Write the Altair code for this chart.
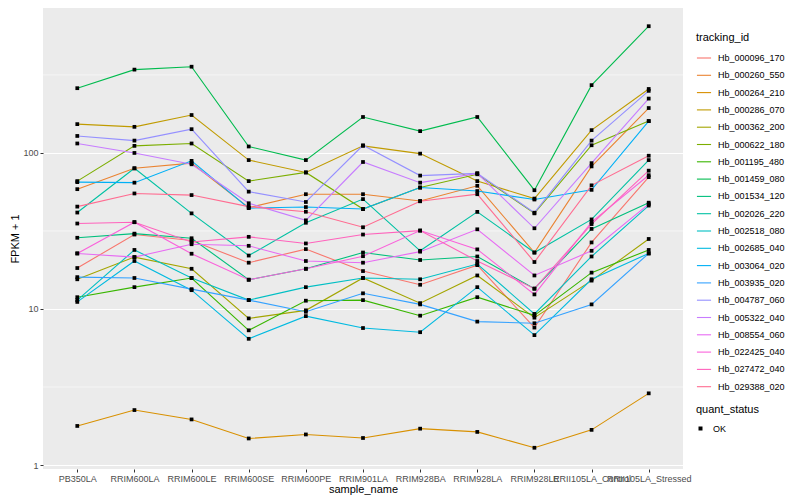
import altair as alt
import pandas as pd

samples = ["PB350LA", "RRIM600LA", "RRIM600LE", "RRIM600SE", "RRIM600PE", "RRIM901LA",
           "RRIM928BA", "RRIM928LA", "RRIM928LE", "RRII105LA_Control", "RRII105LA_Stressed"]

tracking_ids = ["Hb_000096_170", "Hb_000260_550", "Hb_000264_210", "Hb_000286_070", "Hb_000362_200",
                "Hb_000622_180", "Hb_001195_480", "Hb_001459_080", "Hb_001534_120", "Hb_002026_220",
                "Hb_002518_080", "Hb_002685_040", "Hb_003064_020", "Hb_003935_020", "Hb_004787_060",
                "Hb_005322_040", "Hb_008554_060", "Hb_022425_040", "Hb_027472_040", "Hb_029388_020"]

colors = ["#F8766D", "#EA8331", "#D89000", "#C09B00", "#A3A500", "#7CAE00", "#39B600", "#00BB4E",
          "#00BF7D", "#00C1A3", "#00BFC4", "#00BAE0", "#00B0F6", "#35A2FF", "#9590FF", "#C77CFF",
          "#E76BF3", "#FA62DB", "#FF62BC", "#FF6C91"]

# FPKM + 1 values, one list per tracking_id, in sample order
Hb_000096_170 = [18.3, 30, 27.5, 19.8, 24.2, 17.5, 14.3, 19.1, 7.6, 26.7, 70]
Hb_000260_550 = [58.6, 79.7, 86, 44.6, 54.4, 54.4, 49.2, 61.6, 23, 82, 194]
Hb_000264_210 = [1.78, 2.25, 1.96, 1.48, 1.57, 1.49, 1.71, 1.63, 1.29, 1.68, 2.88]
Hb_000286_070 = [153, 147, 175, 90, 75, 111, 99, 66, 51, 140, 257]
Hb_000362_200 = [15.5, 21.5, 18.1, 8.7, 9.8, 15.8, 10.9, 16.4, 8.8, 15.2, 28.1]
Hb_000622_180 = [66, 111, 115, 66, 75, 43.7, 60, 73, 41, 112, 160]
Hb_001195_480 = [11.9, 13.8, 15.8, 7.3, 11.3, 11.4, 9.06, 11.9, 9.1, 17.1, 23.9]
Hb_001459_080 = [260, 342, 357, 110, 90, 170, 138, 170, 57.7, 272, 649]
Hb_001534_120 = [28.6, 30.4, 28.4, 15.4, 18.1, 23, 20.6, 21.7, 13.5, 32.6, 48]
Hb_002026_220 = [41.5, 79.7, 41, 22, 35.7, 50.6, 23.6, 41.9, 23, 37.5, 90]
Hb_002518_080 = [11.4, 23.9, 15.8, 11.4, 13.8, 15.8, 15.5, 19.4, 9.3, 21.7, 46]
Hb_002685_040 = [11.1, 20.3, 13.2, 6.44, 9.0, 7.55, 7.1, 13.8, 6.8, 15.5, 22.7]
Hb_003064_020 = [65, 64.5, 89, 44.3, 45, 43.7, 60, 57, 50.3, 58, 160]
Hb_003935_020 = [16, 15.8, 13.4, 11.4, 9.6, 12.6, 10.7, 8.3, 8.1, 10.7, 22.7]
Hb_004787_060 = [128.5, 120, 142, 56.5, 48.5, 112, 71.6, 74, 41.4, 120, 250]
Hb_005322_040 = [115, 100, 84.6, 47.6, 37, 87.5, 64.5, 74, 32.9, 86, 223]
Hb_008554_060 = [22.7, 21.5, 26, 25.4, 20.3, 19.8, 23.3, 32.4, 16.4, 23.6, 47]
Hb_022425_040 = [22.7, 36, 22.6, 15.4, 18.1, 21.8, 31.8, 24.1, 12.4, 36, 72]
Hb_027472_040 = [35.3, 36, 26.9, 29, 26.3, 30, 31.8, 20.3, 13.5, 35, 77]
Hb_029388_020 = [45.3, 55, 53.7, 45.3, 42, 33.4, 49, 54.4, 20, 62, 96]

series = [Hb_000096_170, Hb_000260_550, Hb_000264_210, Hb_000286_070, Hb_000362_200,
          Hb_000622_180, Hb_001195_480, Hb_001459_080, Hb_001534_120, Hb_002026_220,
          Hb_002518_080, Hb_002685_040, Hb_003064_020, Hb_003935_020, Hb_004787_060,
          Hb_005322_040, Hb_008554_060, Hb_022425_040, Hb_027472_040, Hb_029388_020]

minor_breaks = [3.1623, 31.623, 316.23]

rows = []
for tid, vals in zip(tracking_ids, series):
    for i, (s, v) in enumerate(zip(samples, vals)):
        rows.append({"tracking_id": tid, "sample_name": s, "idx": i, "value": v, "quant_status": "OK"})
df = pd.DataFrame(rows)

FONT = "Liberation Sans"

x_enc = alt.X("sample_name:N", sort=samples,
              scale=alt.Scale(type="point", padding=0.6),
              axis=alt.Axis(labelAngle=0, title="sample_name", labelOverlap=False, labelPadding=2,
                            titlePadding=0))
y_scale = alt.Scale(type="log", domain=[0.943, 849], nice=False)
y_enc = alt.Y("value:Q", scale=y_scale,
              axis=alt.Axis(values=[1, 10, 100], format="d", title="FPKM + 1", titlePadding=2,
                            labelPadding=2))

minor = alt.Chart(pd.DataFrame({"v": minor_breaks})).mark_rule(color="white", strokeWidth=0.55).encode(
    y=alt.Y("v:Q", scale=y_scale)
)

lines = alt.Chart(df).mark_line(strokeWidth=1.1).encode(
    x=x_enc,
    y=y_enc,
    color=alt.Color("tracking_id:N",
                    scale=alt.Scale(domain=tracking_ids, range=colors),
                    legend=alt.Legend(title="tracking_id", symbolType="stroke", symbolSize=200,
                                      symbolStrokeWidth=1.1, rowPadding=4.3, orient="none",
                                      legendX=653, legendY=24, labelFontSize=9, titleFontSize=11,
                                      titlePadding=7, labelOffset=6)),
    detail="tracking_id:N",
    order=alt.Order("idx:Q"),
)

points = alt.Chart(df).mark_point(filled=True, size=14, opacity=1).encode(
    x=alt.X("sample_name:N", sort=samples),
    y=alt.Y("value:Q"),
    color=alt.value("black"),
    shape=alt.Shape("quant_status:N", scale=alt.Scale(domain=["OK"], range=["square"]),
                    legend=alt.Legend(title="quant_status", symbolSize=16, symbolFillColor="black",
                                      symbolStrokeColor="black", labelFontSize=9, titleFontSize=11,
                                      titlePadding=9, labelOffset=8, orient="none",
                                      legendX=653, legendY=396)),
)

chart = alt.layer(minor, lines, points).properties(
    width=640, height=461,
    autosize=alt.AutoSizeParams(type="none"),
    padding={"left": 35, "top": 0, "right": 109, "bottom": 31},
).configure_view(
    fill="#EBEBEB", strokeWidth=0
).configure_axis(
    gridColor="white", gridWidth=1.1, domain=False, tickColor="#333333", tickSize=3,
    labelColor="#4D4D4D", labelFontSize=9, titleFontSize=11, titleFontWeight="normal",
    labelFont=FONT, titleFont=FONT, titleColor="black"
).configure_legend(
    labelFont=FONT, titleFont=FONT, titleFontWeight="normal", titleColor="black",
    labelColor="black"
)

chart.save("out.html", embed_options={"renderer": "svg", "actions": False})
